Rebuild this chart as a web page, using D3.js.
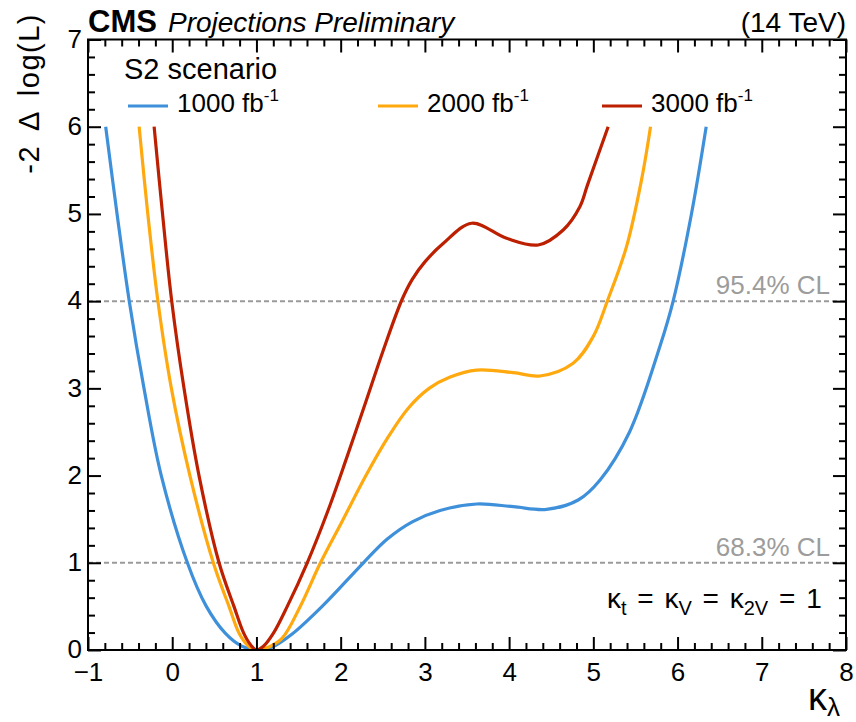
<!DOCTYPE html>
<html>
<head>
<meta charset="utf-8">
<script src="https://cdn.jsdelivr.net/npm/d3@7"></script>
<style>
  html, body { margin: 0; padding: 0; background: #fff; }
  svg { display: block; }
  text { font-family: "Liberation Sans", Arial, Helvetica, sans-serif; }
</style>
</head>
<body>
<svg id="chart" width="856" height="722"></svg>
<script>
// Likelihood scans in kappa_lambda for three integrated luminosities (S2 scenario)
const kl1000  = [-0.79, -0.655, -0.51, -0.335, -0.13, 0.18, 0.405, 0.632, 0.82, 1.00, 1.18, 1.42, 1.78, 2.27, 2.55, 2.85, 3.18, 3.615, 4.05, 4.445, 4.82, 5.08, 5.43, 5.79, 5.95, 6.165, 6.34];
const nll1000 = [ 6.00,  5.00,   4.00,  3.00,   2.00, 1.00, 0.50,  0.19,  0.047, 0.00, 0.03, 0.18, 0.50, 1.00, 1.27, 1.47, 1.60, 1.674, 1.643, 1.613, 1.72, 1.95, 2.50, 3.48, 4.01, 5.00, 6.00];

const kl2000  = [-0.393, -0.29, -0.17, -0.01, 0.21, 0.488, 0.674, 0.80, 0.91, 1.00, 1.11, 1.30, 1.52, 1.76, 2.02, 2.30, 2.55, 2.80, 3.05, 3.30, 3.615, 4.05, 4.366, 4.76, 4.998, 5.17, 5.394, 5.572, 5.679];
const nll2000 = [ 6.00,   5.00,  4.00,  3.00, 2.00, 1.00,  0.50,  0.18, 0.04, 0.00, 0.02, 0.13, 0.50, 1.00, 1.48, 2.00, 2.42, 2.77, 3.00, 3.13, 3.21,  3.18, 3.142, 3.287, 3.593, 4.01, 4.625, 5.39, 6.00];

const kl3000  = [-0.215, -0.115, -0.006, 0.14, 0.318, 0.556, 0.733, 0.85, 0.93, 1.00, 1.08, 1.20, 1.366, 1.603, 1.85, 2.07, 2.30, 2.50, 2.726, 2.85, 3.00, 3.22, 3.556, 3.97, 4.346, 4.642, 4.84, 4.93, 5.176];
const nll3000 = [ 6.00,   5.00,   4.00,  3.00, 2.00,  1.00,  0.50,  0.19, 0.06, 0.00, 0.04, 0.19, 0.50,  1.00,  1.60, 2.20, 2.85, 3.42, 4.013, 4.25, 4.45, 4.663, 4.893, 4.72, 4.644, 4.816, 5.083, 5.33, 6.00];

const lumiLabels = ["1000", "2000", "3000"];
const lumiColors = ["#3f90da", "#ffa90e", "#bd1f01"];

const clLevels = [1, 4];
const clLabels = ["68.3% CL", "95.4% CL"];

const xMajor = [-1, 0, 1, 2, 3, 4, 5, 6, 7, 8];
const xTickLabels = ["\u22121", "0", "1", "2", "3", "4", "5", "6", "7", "8"];
const yMajor = [0, 1, 2, 3, 4, 5, 6, 7];

const series = [
  { kl: kl1000, nll: nll1000 },
  { kl: kl2000, nll: nll2000 },
  { kl: kl3000, nll: nll3000 }
].map((s, i) => ({
  label: lumiLabels[i],
  color: lumiColors[i],
  points: s.kl.map((k, j) => [k, s.nll[j]])
}));

const svg = d3.select("#chart");
const frame = { left: 88, right: 846, top: 39.5, bottom: 650 };

const x = d3.scaleLinear().domain([-1, 8]).range([frame.left, frame.right]);
const y = d3.scaleLinear().domain([0, 7]).range([frame.bottom, frame.top]);

svg.append("defs").append("clipPath").attr("id", "plotClip")
  .append("rect")
  .attr("x", frame.left).attr("y", frame.top)
  .attr("width", frame.right - frame.left).attr("height", frame.bottom - frame.top);

// CL reference lines
svg.append("g").selectAll("line").data(clLevels).join("line")
  .attr("x1", frame.left).attr("x2", frame.right)
  .attr("y1", d => y(d)).attr("y2", d => y(d))
  .attr("stroke", "#9a9a9a").attr("stroke-width", 2)
  .attr("stroke-dasharray", "5,3");

svg.append("g").selectAll("text").data(clLevels).join("text")
  .attr("x", 830).attr("y", d => y(d) - 7)
  .attr("text-anchor", "end")
  .attr("font-size", 26).attr("fill", "#9c9c9c")
  .text((d, i) => clLabels[i]);

// scan curves
const line = d3.line()
  .x(d => x(d[0])).y(d => y(d[1]))
  .curve(d3.curveCatmullRom.alpha(0.5));

svg.append("g").attr("clip-path", "url(#plotClip)")
  .selectAll("path").data(series).join("path")
  .attr("d", d => line(d.points))
  .attr("fill", "none")
  .attr("stroke", d => d.color)
  .attr("stroke-width", 3.2)
  .attr("stroke-linejoin", "round");

// axes with inward ticks on all four sides
const xMinor = d3.range(-1, 8.0001, 0.2).filter(v => Math.abs(v - Math.round(v)) > 1e-6);
const yMinor = d3.range(0, 7.0001, 0.2).filter(v => Math.abs(v - Math.round(v)) > 1e-6);

function styleAxis(g) {
  g.select(".domain").remove();
  g.selectAll(".tick line").attr("stroke", "#000").attr("stroke-width", 2);
}

svg.append("g").attr("transform", `translate(0,${frame.bottom})`)
  .call(d3.axisBottom(x).tickValues(xMajor).tickSize(-13).tickFormat((d, i) => xTickLabels[i]))
  .call(styleAxis)
  .call(g => g.selectAll(".tick text").attr("font-size", 26).attr("fill", "#000")
    .attr("font-family", "Liberation Sans, Arial, sans-serif").attr("dy", "0.71em").attr("y", 13));
svg.append("g").attr("transform", `translate(0,${frame.bottom})`)
  .call(d3.axisBottom(x).tickValues(xMinor).tickSize(-7).tickFormat(""))
  .call(styleAxis);

svg.append("g").attr("transform", `translate(0,${frame.top})`)
  .call(d3.axisTop(x).tickValues(xMajor).tickSize(-13).tickFormat(""))
  .call(styleAxis);
svg.append("g").attr("transform", `translate(0,${frame.top})`)
  .call(d3.axisTop(x).tickValues(xMinor).tickSize(-7).tickFormat(""))
  .call(styleAxis);

svg.append("g").attr("transform", `translate(${frame.left},0)`)
  .call(d3.axisLeft(y).tickValues(yMajor).tickSize(-13).tickFormat(d3.format("d")))
  .call(styleAxis)
  .call(g => g.selectAll(".tick text").attr("font-size", 26).attr("fill", "#000")
    .attr("font-family", "Liberation Sans, Arial, sans-serif").attr("x", -6).attr("dy", "0.3em"));
svg.append("g").attr("transform", `translate(${frame.left},0)`)
  .call(d3.axisLeft(y).tickValues(yMinor).tickSize(-7).tickFormat(""))
  .call(styleAxis);

svg.append("g").attr("transform", `translate(${frame.right},0)`)
  .call(d3.axisRight(y).tickValues(yMajor).tickSize(-13).tickFormat(""))
  .call(styleAxis);
svg.append("g").attr("transform", `translate(${frame.right},0)`)
  .call(d3.axisRight(y).tickValues(yMinor).tickSize(-7).tickFormat(""))
  .call(styleAxis);

// frame
svg.append("rect")
  .attr("x", frame.left).attr("y", frame.top)
  .attr("width", frame.right - frame.left).attr("height", frame.bottom - frame.top)
  .attr("fill", "none").attr("stroke", "#000").attr("stroke-width", 2);

// header
svg.append("text").attr("x", 88).attr("y", 32)
  .attr("font-size", 31).attr("font-weight", "bold").text("CMS");
svg.append("text").attr("x", 168).attr("y", 32)
  .attr("font-size", 28).attr("font-style", "italic").text("Projections Preliminary");
svg.append("text").attr("x", 846).attr("y", 32)
  .attr("font-size", 28).attr("text-anchor", "end").text("(14 TeV)");

// y-axis title
svg.append("text")
  .attr("transform", "translate(39,13) rotate(-90)")
  .attr("text-anchor", "end").attr("font-size", 29)
  .attr("letter-spacing", 1.5).attr("word-spacing", 6)
  .text("-2 \u0394 log(L)");

// x-axis title
const xt = svg.append("text").attr("x", 808).attr("y", 710)
  .attr("font-family", "Liberation Serif, Times New Roman, serif");
xt.append("tspan").attr("font-size", 38).text("\u03ba");
xt.append("tspan").attr("font-size", 26).attr("dy", 6).text("\u03bb");

// legend
const legend = svg.append("g");
legend.append("text").attr("x", 124).attr("y", 79).attr("font-size", 29).text("S2 scenario");
const legendX = [128, 378, 602];
series.forEach((s, i) => {
  legend.append("line")
    .attr("x1", legendX[i]).attr("x2", legendX[i] + 40)
    .attr("y1", 106).attr("y2", 106)
    .attr("stroke", s.color).attr("stroke-width", 3.2);
  const t = legend.append("text").attr("x", legendX[i] + 49).attr("y", 112).attr("font-size", 26);
  t.append("tspan").text(s.label + " fb");
  t.append("tspan").attr("font-size", 17).attr("dy", -11).text("-1");
});

// coupling assumption
const ka = svg.append("text").attr("x", 607).attr("y", 608)
  .attr("font-size", 28).attr("word-spacing", 3);
ka.append("tspan").text("\u03ba");
ka.append("tspan").attr("font-size", 20).attr("dy", 7).text("t");
ka.append("tspan").attr("dy", -7).text(" = \u03ba");
ka.append("tspan").attr("font-size", 20).attr("dy", 7).text("V");
ka.append("tspan").attr("dy", -7).text(" = \u03ba");
ka.append("tspan").attr("font-size", 20).attr("dy", 7).text("2V");
ka.append("tspan").attr("dy", -7).text(" = 1");
</script>
</body>
</html>
